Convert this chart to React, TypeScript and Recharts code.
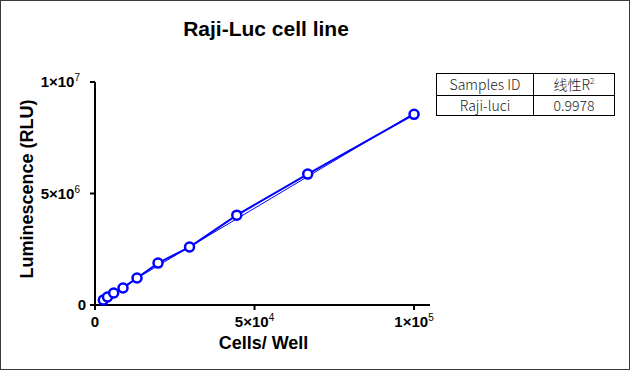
import { LineChart, Line, XAxis, YAxis } from 'recharts';

const cells = [2601, 3902, 5853, 8779, 13169, 19753, 29630, 44444, 66667, 100000];
const rlu = [220000, 360000, 540000, 760000, 1210000, 1880000, 2600000, 4030000, 5870000, 8550000];
const fitCells = [2601, 100000];
const fitRlu = [300000, 8600000];
const xTicks = [0, 50000, 100000];
const yTicks = [0, 5000000, 10000000];
const sampleId = 'Raji-luci';
const r2 = '0.9978';

const points = cells.map((x, i) => ({ x, y: rlu[i] }));
const fit = fitCells.map((x, i) => ({ x, y: fitRlu[i] }));

const font = '"Liberation Sans", Arial, sans-serif';

function sci(v: number) {
  if (v === 0) return { base: '0', exp: '' };
  const exp = Math.floor(Math.log10(v));
  const m = Math.round(v / Math.pow(10, exp));
  return { base: `${m}×10`, exp: String(exp) };
}

function XTick(props: any) {
  const { x, y, payload } = props;
  const s = sci(payload.value);
  return (
    <text x={x} y={y + 15} textAnchor="middle" fontFamily={font} fontSize={15} fontWeight="bold" fill="#000">
      {s.base}
      {s.exp && <tspan dy={-6} fontSize={10} fontWeight="normal">{s.exp}</tspan>}
    </text>
  );
}

function YTick(props: any) {
  const { x, y, payload } = props;
  const s = sci(payload.value);
  return (
    <text x={s.exp ? x - 8 : x - 2} y={y + 5} textAnchor="end" fontFamily={font} fontSize={15} fontWeight="bold" fill="#000">
      {s.base}
      {s.exp && <tspan dy={-6} fontSize={10} fontWeight="normal">{s.exp}</tspan>}
    </text>
  );
}

const cell: React.CSSProperties = {
  border: '1px solid #000',
  padding: 0,
  textAlign: 'center',
  height: 19,
  lineHeight: '17px',
};

export default function App() {
  return (
    <div style={{ position: 'absolute', left: 0, top: 0, width: 630, height: 370, border: '1px solid #3a3a3a', boxSizing: 'border-box', background: '#fff' }}>
      <div style={{ position: 'absolute', left: -1, top: -1 }}>
        <LineChart width={630} height={370} margin={{ top: 82, right: 200, left: 0, bottom: 0 }}>
          <XAxis
            type="number"
            dataKey="x"
            domain={[0, 105000]}
            ticks={xTicks}
            allowDuplicatedCategory={false}
            height={65}
            stroke="#000"
            strokeWidth={2}
            tickSize={5}
            tick={<XTick />}
          />
          <YAxis
            type="number"
            dataKey="y"
            domain={[0, 10000000]}
            ticks={yTicks}
            width={95}
            stroke="#000"
            strokeWidth={2}
            tickSize={5}
            tick={<YTick />}
          />
          <Line data={fit} dataKey="y" stroke="#0000ff" strokeWidth={1} dot={false} isAnimationActive={false} />
          <Line
            data={points}
            dataKey="y"
            stroke="#0000ff"
            strokeWidth={2}
            dot={{ r: 4.5, stroke: '#0000ff', strokeWidth: 2.5, fill: '#fff' }}
            isAnimationActive={false}
          />
        </LineChart>
      </div>
      <div style={{ position: 'absolute', left: 0, width: 530, top: 16, textAlign: 'center', fontFamily: font, fontWeight: 'bold', fontSize: 21 }}>
        Raji-Luc cell line
      </div>
      <div style={{ position: 'absolute', left: 95, width: 335, top: 332, textAlign: 'center', fontFamily: font, fontWeight: 'bold', fontSize: 18 }}>
        Cells/ Well
      </div>
      <div
        style={{
          position: 'absolute',
          left: 26,
          top: 188,
          transform: 'translate(-50%, -50%) rotate(-90deg)',
          whiteSpace: 'nowrap',
          fontFamily: font,
          fontWeight: 'bold',
          fontSize: 18,
        }}
      >
        Luminescence (RLU)
      </div>
      <table
        style={{
          position: 'absolute',
          left: 435,
          top: 72,
          width: 179,
          borderCollapse: 'collapse',
          fontFamily: '"Noto Sans CJK SC", "Noto Sans", sans-serif',
          fontSize: 14,
          fontWeight: 300,
          color: '#222',
        }}
      >
        <tbody>
          <tr>
            <td style={{ ...cell, width: 96, height: 21 }}>Samples ID</td>
            <td style={{ ...cell, height: 21 }}>
              线性R<sup style={{ fontSize: 8, verticalAlign: 'top', lineHeight: '10px' }}>2</sup>
            </td>
          </tr>
          <tr>
            <td style={cell}>{sampleId}</td>
            <td style={cell}>{r2}</td>
          </tr>
        </tbody>
      </table>
    </div>
  );
}
